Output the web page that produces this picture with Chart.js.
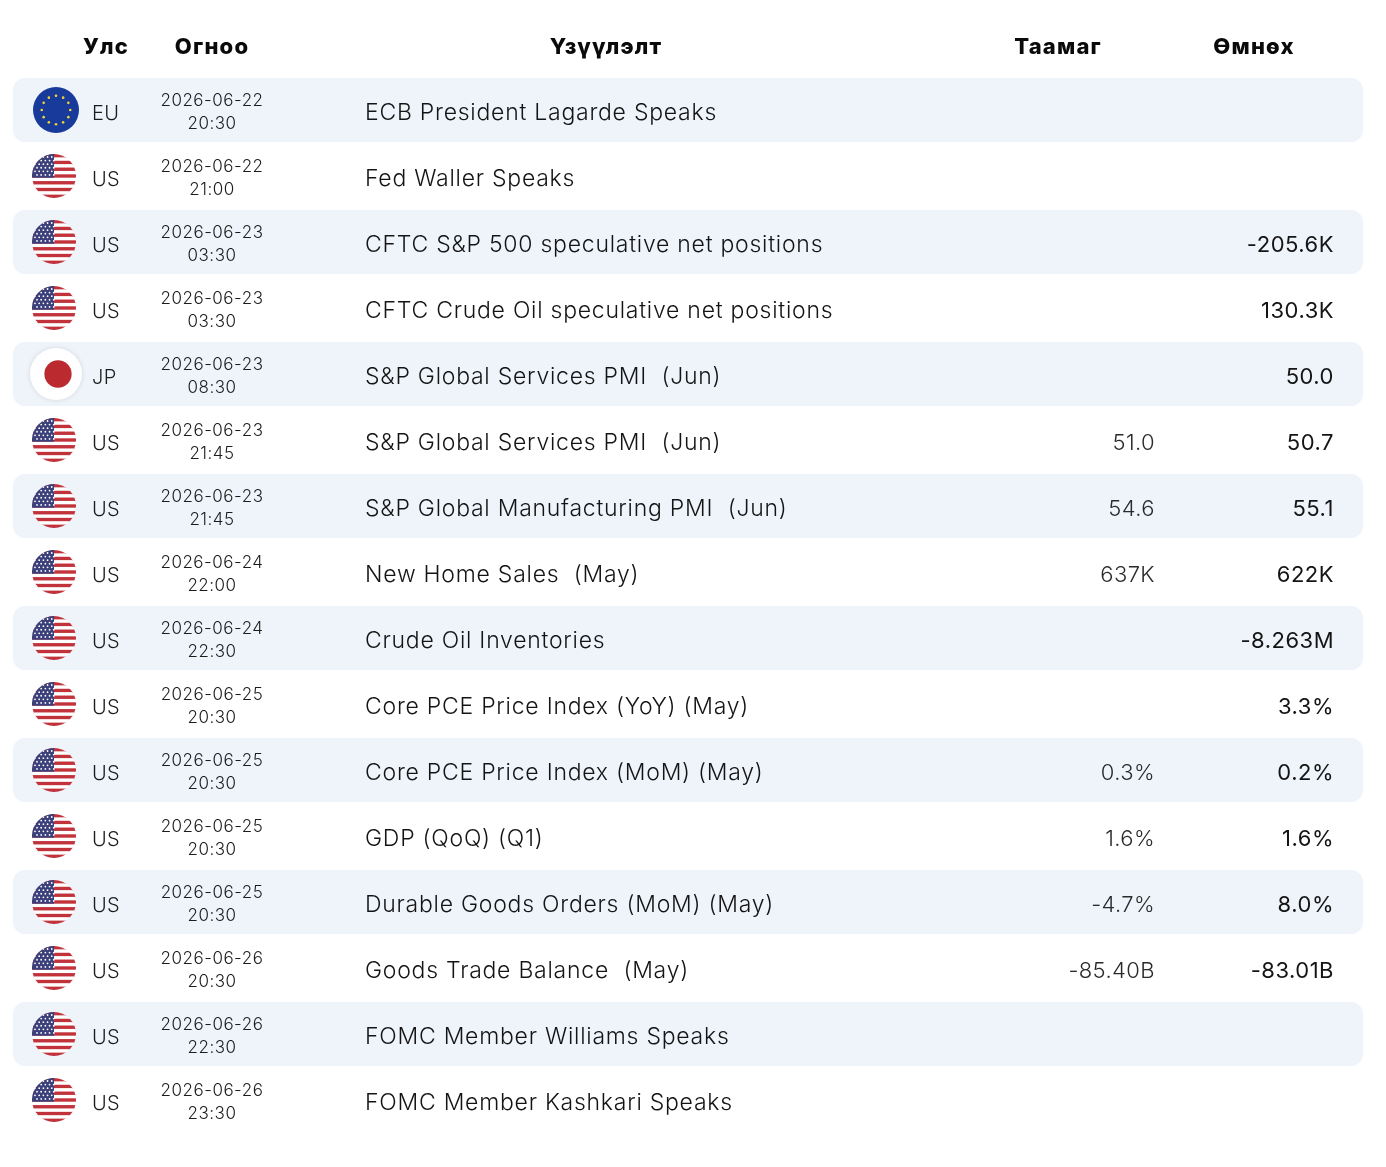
<!DOCTYPE html>
<html>
<head>
<meta charset="utf-8">
<script src="https://cdn.jsdelivr.net/npm/chart.js@4.4.1/dist/chart.umd.min.js"></script>
<style>
  html, body { margin: 0; padding: 0; background: #fff; }
  #wrap { width: 1386px; height: 1167px; position: relative; }
</style>
</head>
<body>
<div id="wrap"><canvas id="cal"></canvas></div>
<script>
// эдийн засгийн календарь — мөр бүр нэг үйл явдал
const headers = ['Улс', 'Огноо', 'Үзүүлэлт', 'Таамаг', 'Өмнөх'];
const countries = ['EU', 'US', 'US', 'US', 'JP', 'US', 'US', 'US', 'US', 'US', 'US', 'US', 'US', 'US', 'US', 'US'];
const dates = ['2026-06-22', '2026-06-22', '2026-06-23', '2026-06-23', '2026-06-23', '2026-06-23', '2026-06-23', '2026-06-24',
  '2026-06-24', '2026-06-25', '2026-06-25', '2026-06-25', '2026-06-25', '2026-06-26', '2026-06-26', '2026-06-26'];
const times = ['20:30', '21:00', '03:30', '03:30', '08:30', '21:45', '21:45', '22:00',
  '22:30', '20:30', '20:30', '20:30', '20:30', '20:30', '22:30', '23:30'];
const events = [
  'ECB President Lagarde Speaks',
  'Fed Waller Speaks',
  'CFTC S&P 500 speculative net positions',
  'CFTC Crude Oil speculative net positions',
  'S&P Global Services PMI  (Jun)',
  'S&P Global Services PMI  (Jun)',
  'S&P Global Manufacturing PMI  (Jun)',
  'New Home Sales  (May)',
  'Crude Oil Inventories',
  'Core PCE Price Index (YoY) (May)',
  'Core PCE Price Index (MoM) (May)',
  'GDP (QoQ) (Q1)',
  'Durable Goods Orders (MoM) (May)',
  'Goods Trade Balance  (May)',
  'FOMC Member Williams Speaks',
  'FOMC Member Kashkari Speaks'
];
const forecasts = ['', '', '', '', '', '51.0', '54.6', '637K', '', '', '0.3%', '1.6%', '-4.7%', '-85.40B', '', ''];
const previous = ['', '', '-205.6K', '130.3K', '50.0', '50.7', '55.1', '622K', '-8.263M', '3.3%', '0.2%', '1.6%', '8.0%', '-83.01B', '', ''];

const FONT = 'Inter, "Noto Sans", "DejaVu Sans", sans-serif';
const INK = '#141414';
const BAND = '#eff4fb';

function drawUS(ctx, cx, cy, r) {
  ctx.save();
  ctx.beginPath(); ctx.arc(cx, cy, r, 0, Math.PI * 2); ctx.clip();
  const h = 2 * r / 13;
  for (let i = 0; i < 13; i++) {
    ctx.fillStyle = i % 2 === 0 ? '#c1323b' : '#ffffff';
    ctx.fillRect(cx - r, cy - r + i * h, 2 * r, h + 0.5);
  }
  ctx.fillStyle = '#3b3f7a';
  ctx.fillRect(cx - r, cy - r, r, h * 7);
  ctx.fillStyle = '#ffffff';
  for (let j = 0; j < 6; j++) {
    for (let k = 0; k < 5; k++) {
      const x = cx - r + 3 + k * (r - 4) / 4.3 + (j % 2 ? 2 : 0);
      const y = cy - r + 3 + j * (h * 7 - 4) / 5.5;
      ctx.beginPath(); ctx.arc(x, y, 0.9, 0, Math.PI * 2); ctx.fill();
    }
  }
  ctx.restore();
}

function drawEU(ctx, cx, cy, r) {
  ctx.save();
  ctx.fillStyle = '#173a9b';
  ctx.beginPath(); ctx.arc(cx, cy, r, 0, Math.PI * 2); ctx.fill();
  ctx.fillStyle = '#f3d23a';
  for (let i = 0; i < 12; i++) {
    const a = i * Math.PI / 6;
    ctx.beginPath(); ctx.arc(cx + Math.cos(a) * r * 0.62, cy + Math.sin(a) * r * 0.62, 1.3, 0, Math.PI * 2); ctx.fill();
  }
  ctx.restore();
}

function drawJP(ctx, cx, cy, r) {
  ctx.save();
  ctx.shadowColor = 'rgba(0,0,0,0.12)';
  ctx.shadowBlur = 5;
  ctx.fillStyle = '#ffffff';
  ctx.beginPath(); ctx.arc(cx + 2, cy, r + 4, 0, Math.PI * 2); ctx.fill();
  ctx.shadowBlur = 0;
  ctx.fillStyle = '#bb2a2f';
  ctx.beginPath(); ctx.arc(cx + 4, cy, r * 0.62, 0, Math.PI * 2); ctx.fill();
  ctx.restore();
}

// баганын байрлал (x тэнхлэгийн нэгжээр)
const COLX = { flag: 41, code: 79, date: 199, event: 352, fc: 1142, prev: 1321 };
const HEADX = [93, 199, 593, 1045, 1241];

const tablePlugin = {
  id: 'tableText',
  afterDatasetsDraw(chart) {
    const { ctx, scales: { x, y } } = chart;
    ctx.save();
    ctx.fillStyle = '#0a0a0a';
    ctx.textBaseline = 'middle';
    ctx.textAlign = 'center';
    ctx.font = '800 22px ' + FONT;
    ctx.letterSpacing = '1.2px';
    headers.forEach((h, i) => ctx.fillText(h, x.getPixelForValue(HEADX[i]), 47));

    countries.forEach((c, i) => {
      const cy = y.getPixelForValue(i);
      const ty = cy + 3;
      const fx = x.getPixelForValue(COLX.flag);
      if (c === 'EU') drawEU(ctx, fx + 2, cy, 23);
      else if (c === 'JP') drawJP(ctx, fx, cy, 22);
      else drawUS(ctx, fx, cy, 22);

      ctx.fillStyle = '#1c1c1c';
      ctx.textAlign = 'left';
      ctx.font = '300 20px ' + FONT;
      ctx.letterSpacing = '0.3px';
      ctx.fillText(c, x.getPixelForValue(COLX.code), ty + 1);

      ctx.textAlign = 'center';
      ctx.font = '300 17px ' + FONT;
      ctx.letterSpacing = '0.5px';
      ctx.fillText(dates[i], x.getPixelForValue(COLX.date), ty - 12);
      ctx.fillText(times[i], x.getPixelForValue(COLX.date), ty + 11);

      ctx.textAlign = 'left';
      ctx.font = '300 23px ' + FONT;
      ctx.letterSpacing = '0.75px';
      ctx.fillStyle = INK;
      ctx.fillText(events[i], x.getPixelForValue(COLX.event), ty);

      ctx.textAlign = 'right';
      ctx.font = '300 22px ' + FONT;
      ctx.letterSpacing = '0.4px';
      ctx.fillStyle = '#2a2a2a';
      if (forecasts[i]) ctx.fillText(forecasts[i], x.getPixelForValue(COLX.fc), ty);
      ctx.font = '400 22px ' + FONT;
      ctx.letterSpacing = '0.5px';
      ctx.fillStyle = INK;
      if (previous[i]) ctx.fillText(previous[i], x.getPixelForValue(COLX.prev), ty);
    });
    ctx.restore();
  }
};

new Chart(document.getElementById('cal'), {
  type: 'bar',
  data: {
    labels: events,
    datasets: [{
      data: events.map((_, i) => i % 2 === 0 ? [0, 1350] : null),
      backgroundColor: BAND,
      borderRadius: 12,
      borderSkipped: false,
      barPercentage: 0.97,
      categoryPercentage: 1
    }]
  },
  options: {
    indexAxis: 'y',
    responsive: true,
    maintainAspectRatio: false,
    animation: false,
    layout: { padding: { top: 77, bottom: 34, left: 13, right: 23 } },
    plugins: { legend: { display: false }, tooltip: { enabled: false } },
    scales: {
      x: { type: 'linear', min: 0, max: 1350, display: false },
      y: { type: 'category', display: false }
    }
  },
  plugins: [tablePlugin]
});
</script>
</body>
</html>
